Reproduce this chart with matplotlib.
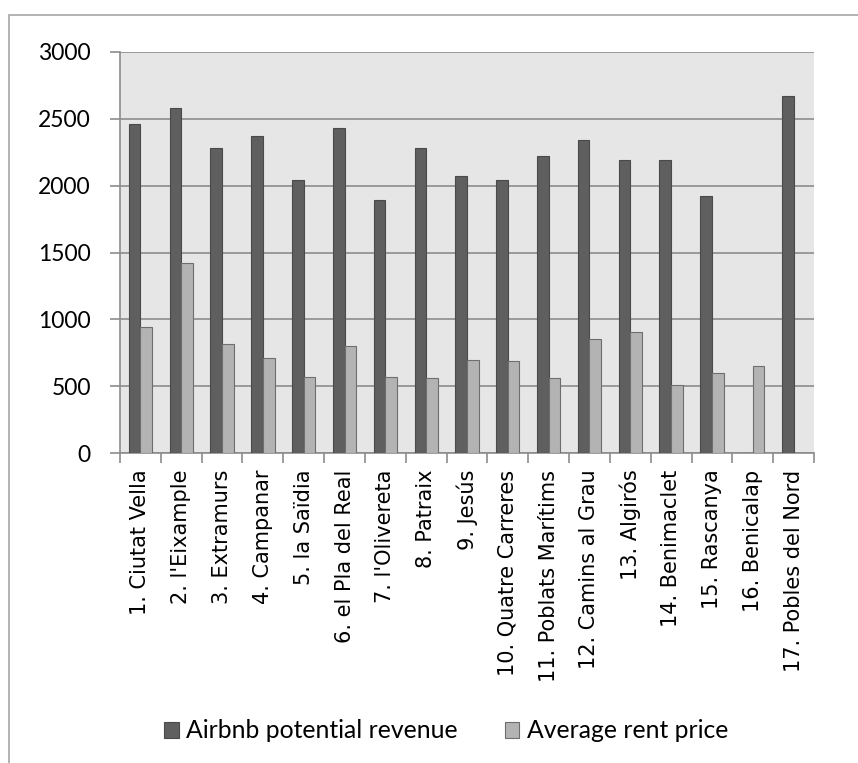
import matplotlib
matplotlib.use("Agg")
import matplotlib.pyplot as plt
import numpy as np
from matplotlib.patches import Rectangle

districts = [
    "1. Ciutat Vella", "2. l'Eixample", "3. Extramurs", "4. Campanar",
    "5. la Saïdia", "6. el Pla del Real", "7. l'Olivereta", "8. Patraix",
    "9. Jesús", "10. Quatre Carreres", "11. Poblats Marítims",
    "12. Camins al Grau", "13. Algirós", "14. Benimaclet", "15. Rascanya",
    "16. Benicalap", "17. Pobles del Nord",
]
airbnb_revenue = [2460, 2580, 2280, 2370, 2040, 2430, 1890, 2280, 2070,
                  2040, 2220, 2340, 2190, 2190, 1920, 0, 2670]
rent_price = [940, 1420, 815, 710, 570, 800, 565, 560, 695,
              690, 560, 850, 905, 510, 600, 650, 0]
y_ticks = [0, 500, 1000, 1500, 2000, 2500, 3000]

W, H = 858, 763
fig = plt.figure(figsize=(W / 100, H / 100), dpi=100)

# chart frame
fig.add_artist(Rectangle((9 / W, -0.1), 1.2, 1 - 15 / H + 0.1,
                         transform=fig.transFigure, fill=False,
                         edgecolor="#a6a6a6", linewidth=1.2))

ax = fig.add_axes([120 / W, 1 - 453 / H, 694 / W, 401 / H])
ax.set_facecolor("#e6e6e6")

x = np.arange(len(districts))
w = 0.285
ax.bar(x - w / 2, airbnb_revenue, w, color="#5f5f5f", edgecolor="#4a4a4a",
       linewidth=0.8, label="Airbnb potential revenue", zorder=3)
ax.bar(x + w / 2, rent_price, w, color="#b3b3b3", edgecolor="#6e6e6e",
       linewidth=0.8, label="Average rent price", zorder=3)

ax.set_xlim(-0.5, len(districts) - 0.5)
ax.set_ylim(0, 3000)
ax.set_yticks(y_ticks)
ax.set_yticklabels([str(v) for v in y_ticks], fontsize=16.5, family="Lato")
ax.yaxis.grid(True, color="#8c8c8c", linewidth=1.2, zorder=1)
ax.set_axisbelow(True)

# category labels centred, ticks on the group boundaries
ax.set_xticks(x)
ax.set_xticklabels(districts, rotation=90, fontsize=15, family="DejaVu Sans",
                   va="top", ha="center")
ax.tick_params(axis="x", length=0, pad=12)
ax.set_xticks(np.arange(-0.5, len(districts)), minor=True)
ax.tick_params(axis="x", which="minor", length=7, color="#8c8c8c", width=1.2)
ax.tick_params(axis="y", length=7, color="#8c8c8c", width=1.2, pad=14)

for side in ["top", "right"]:
    ax.spines[side].set_visible(False)
for side in ["left", "bottom"]:
    ax.spines[side].set_color("#8c8c8c")
    ax.spines[side].set_linewidth(1.2)

fig.legend(loc="center", bbox_to_anchor=(446 / W, 1 - 731 / H), ncol=2,
           frameon=False, prop={"family": "Lato", "size": 17.8},
           handlelength=0.6, handleheight=0.6, handletextpad=0.3,
           columnspacing=1.9)

fig.savefig("out.png", dpi=100)
